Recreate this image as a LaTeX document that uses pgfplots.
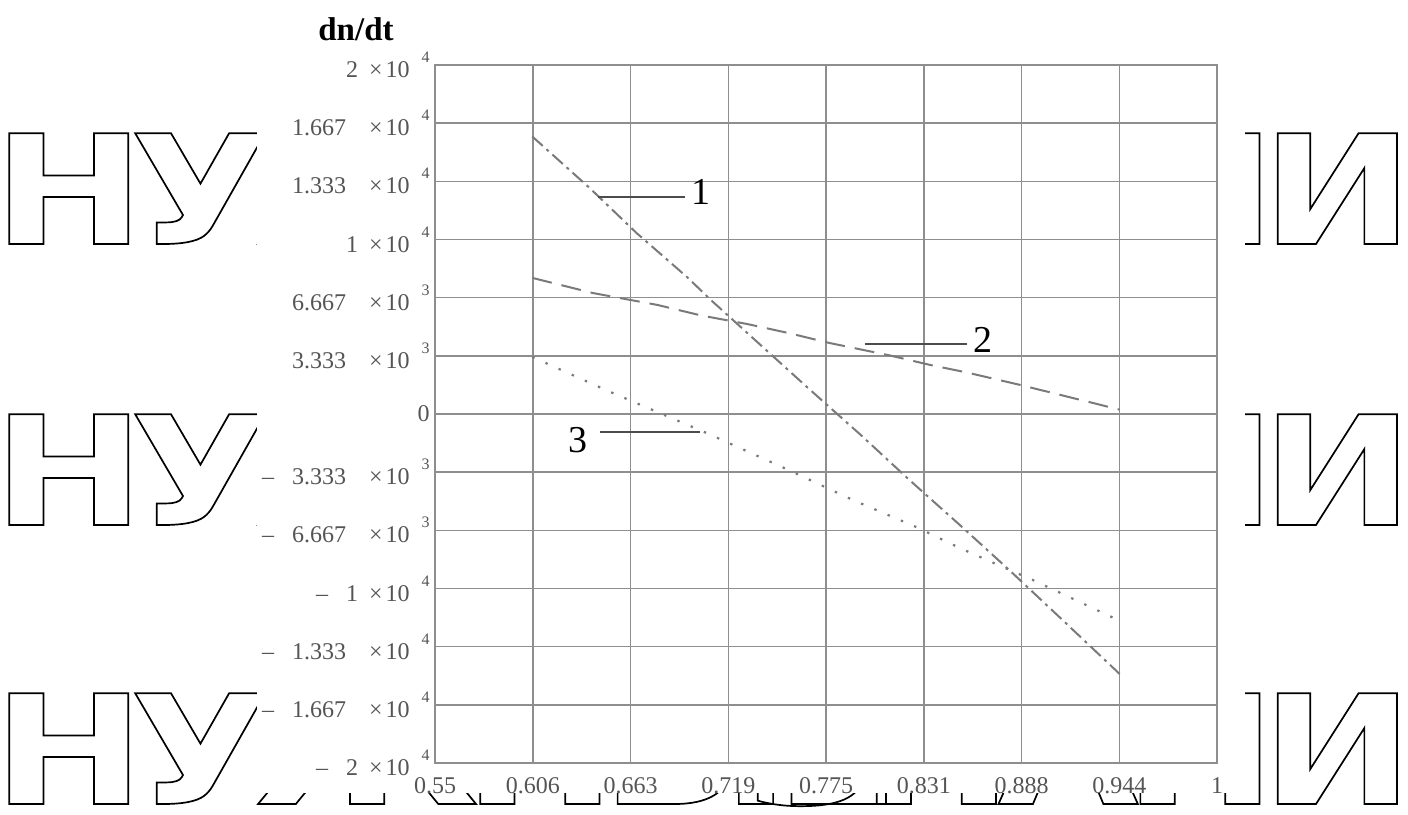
\documentclass[border=0pt]{standalone}
\usepackage{fontspec}
\setmainfont{Liberation Serif}
\newfontfamily\wmfont[FakeStretch=1.2,LetterSpace=-10]{DejaVu Sans}
\usepackage{pgfplots}
\pgfplotsset{compat=1.18}
\definecolor{gridc}{HTML}{8E8E8E}
\definecolor{curvec}{HTML}{7A7A7A}
\definecolor{labc}{HTML}{555555}
\newcommand{\ylab}[4]{#1#2\hspace{#3}\texttimes\hspace{1.5pt}10\hspace{6pt}\raisebox{7.5pt}{\fontsize{8}{8}\selectfont #4}}
\newcommand{\WM}[3]{\node[wm,anchor=#1] at #2 {\special{pdf:literal direct 1 Tr 0.85 w}#3\special{pdf:literal direct 0 Tr}};}
\tikzset{wm/.style={inner sep=0pt,text=black,font=\wmfont\bfseries\fontsize{76}{76}\selectfont}}
\begin{document}
\begin{tikzpicture}
\begin{scope}[x=0.5pt,y=-0.5pt]
\path[use as bounding box] (0,0) rectangle (1408,814);
% watermark rows (mostly hidden behind the chart)
\WM{base west}{(-8,244)}{НУЖНЫЕ}
\WM{base east}{(1414,244)}{ЗНАНИ}
\WM{base west}{(-8,525)}{НУЖНЫЕ}
\WM{base east}{(1414,525)}{ЗНАНИ}
\WM{base west}{(-8,804)}{НУЖНЫЕ}
\WM{base east}{(1414,804)}{ЗНАНИ}
\fill[white] (257,0) rectangle (1245,793);
\node[font=\bfseries\fontsize{16.5}{16.5}\selectfont] at (356,29) {dn/dt};
\end{scope}
\begin{axis}[
  at={(217.5pt,-381.5pt)}, anchor=south west,
  scale only axis, width=391pt, height=349pt,
  xmin=0.55, xmax=1, ymin=-20000, ymax=20000,
  xtick={0.55,0.60625,0.6625,0.71875,0.775,0.83125,0.8875,0.94375,1},
  xticklabels={0.55,0.606,0.663,0.719,0.775,0.831,0.888,0.944,1},
  ytick={-20000,-16666.667,-13333.333,-10000,-6666.667,-3333.333,0,3333.333,6666.667,10000,13333.333,16666.667,20000},
  yticklabels={
    {\ylab{\textendash\hspace{9pt}}{2}{5.5pt}{4}},
    {\ylab{\textendash\hspace{9pt}}{1.667}{11.5pt}{4}},
    {\ylab{\textendash\hspace{9pt}}{1.333}{11.5pt}{4}},
    {\ylab{\textendash\hspace{9pt}}{1}{5.5pt}{4}},
    {\ylab{\textendash\hspace{9pt}}{6.667}{11.5pt}{3}},
    {\ylab{\textendash\hspace{9pt}}{3.333}{11.5pt}{3}},
    {0},
    {\ylab{}{3.333}{11.5pt}{3}},
    {\ylab{}{6.667}{11.5pt}{3}},
    {\ylab{}{1}{5.5pt}{4}},
    {\ylab{}{1.333}{11.5pt}{4}},
    {\ylab{}{1.667}{11.5pt}{4}},
    {\ylab{}{2}{5.5pt}{4}}},
  grid=major, major grid style={gridc, line width=0.75pt},
  axis line style={gridc, line width=0.75pt},
  major tick length=0pt,
  xticklabel style={font=\fontsize{12}{12}\selectfont, text=labc, inner sep=0pt, yshift=-7pt},
  yticklabel style={font=\fontsize{12}{12}\selectfont, text=labc, inner sep=0pt, xshift=-2.5pt},
  scaled ticks=false,
  clip=false,
]
% curve 1: dash-dot
\addplot[curvec, line width=1pt, dash pattern=on 7pt off 2.5pt on 1.5pt off 2.5pt] coordinates {
 (0.606,15900) (0.639,12950) (0.666,10370) (0.695,7850) (0.710,6420)
 (0.764,1550) (0.795,-1200) (0.823,-3780) (0.852,-6360) (0.880,-8900)
 (0.910,-11700) (0.944,-14900)};
% curve 2: dashed
\addplot[curvec, line width=1pt, dash pattern=on 10pt off 5pt] coordinates {
 (0.606,7800) (0.641,6930) (0.678,6250) (0.703,5650) (0.730,5150)
 (0.753,4650) (0.777,4070) (0.812,3350) (0.835,2810) (0.856,2380)
 (0.887,1660) (0.944,250)};
% curve 3: dotted
\addplot[curvec, line width=1.1pt, dash pattern=on 1.2pt off 6pt] coordinates {
 (0.606,3270) (0.650,1300) (0.7054,-1050) (0.750,-3050) (0.7905,-4930)
 (0.827,-6480) (0.852,-7680) (0.878,-8820) (0.894,-9510) (0.944,-11850)};
% curve labels and leaders
\draw[black!70, line width=0.8pt] (axis cs:0.6438,12433) -- (axis cs:0.6939,12433);
\node[font=\fontsize{19}{19}\selectfont] at (axis cs:0.7031,12720) {1};
\draw[black!70, line width=0.8pt] (axis cs:0.7974,4011) -- (axis cs:0.8561,4011);
\node[font=\fontsize{19}{19}\selectfont] at (axis cs:0.8653,4240) {2};
\draw[black!70, line width=0.8pt] (axis cs:0.6449,-1031) -- (axis cs:0.7025,-1031);
\node[font=\fontsize{19}{19}\selectfont] at (axis cs:0.6323,-1490) {3};
\end{axis}
\end{tikzpicture}
\end{document}
